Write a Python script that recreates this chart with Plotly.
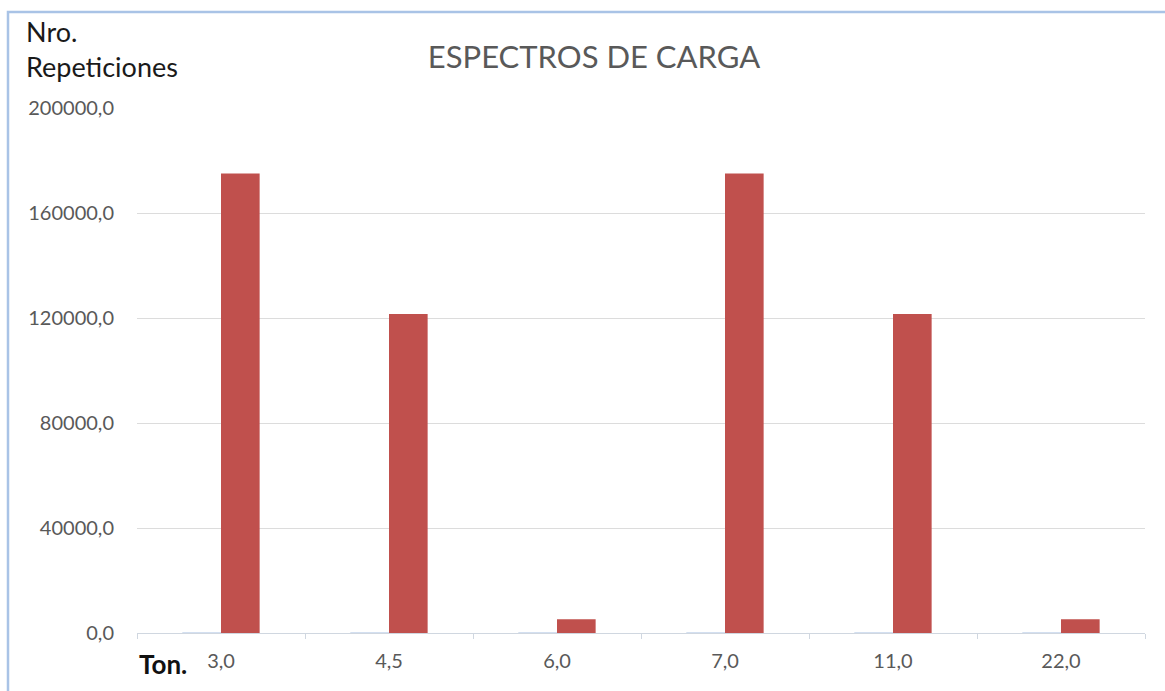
import plotly.graph_objects as go

categories = ["3,0", "4,5", "6,0", "7,0", "11,0", "22,0"]
serie_base = [0, 0, 0, 0, 0, 0]
repeticiones = [175000, 121500, 5200, 175000, 121500, 5200]
y_ticks = [0, 40000, 80000, 120000, 160000, 200000]

FONT = "Lato"
GRAY = "#595959"

fig = go.Figure()
fig.add_trace(go.Bar(x=categories, y=serie_base, marker=dict(color="#4f81bd",
                     line=dict(color="#c5d5ea", width=1)), showlegend=False))
fig.add_trace(go.Bar(x=categories, y=repeticiones, marker=dict(color="#c0504d",
                     line=dict(width=0)), showlegend=False))

fig.update_layout(
    width=1165, height=691,
    margin=dict(l=137, r=20, t=108, b=58),
    paper_bgcolor="white", plot_bgcolor="white",
    barmode="group", bargap=0.54, bargroupgap=0,
    separators=",.",
    font=dict(family=FONT, color=GRAY, size=20),
    title=dict(text="ESPECTROS DE CARGA", x=594 / 1165, xanchor="center",
               y=1 - 57 / 691, yanchor="middle",
               font=dict(family=FONT, size=31, color=GRAY)),
    xaxis=dict(type="category", showgrid=False, showline=True, linecolor="#d0d7e0",
               linewidth=1, ticks="outside", tickson="boundaries", ticklen=5,
               tickcolor="#d0d7e0", ticklabelstandoff=10,
               tickfont=dict(family=FONT, size=20, color=GRAY)),
    yaxis=dict(range=[0, 200000], tickvals=y_ticks, tickformat=".1f",
               showgrid=True, gridcolor="#dcdcdc", gridwidth=1, zeroline=False,
               showline=False, ticks="", ticklabelstandoff=22,
               tickfont=dict(family=FONT, size=20, color=GRAY)),
    shapes=[dict(type="rect", xref="paper", yref="paper",
                 x0=(8 - 137) / 1008, x1=1.2, y0=-0.3, y1=(633 - 12) / 525,
                 line=dict(color="#a9c3e6", width=2.5), layer="below")],
    annotations=[
        dict(text="Nro.<br>Repeticiones", xref="paper", yref="paper",
             x=(24 - 137) / 1008, y=(633 - 13) / 525, xanchor="left", yanchor="top",
             align="left", showarrow=False,
             font=dict(family=FONT, size=27, color="#1a1a1a")),
        dict(text="<b>Ton.</b>", xref="paper", yref="paper",
             x=0, y=-(664 - 633) / 525, xanchor="left", yanchor="middle",
             showarrow=False, font=dict(family=FONT, size=26, color="#111111")),
    ],
)

fig.write_html("out.html")
